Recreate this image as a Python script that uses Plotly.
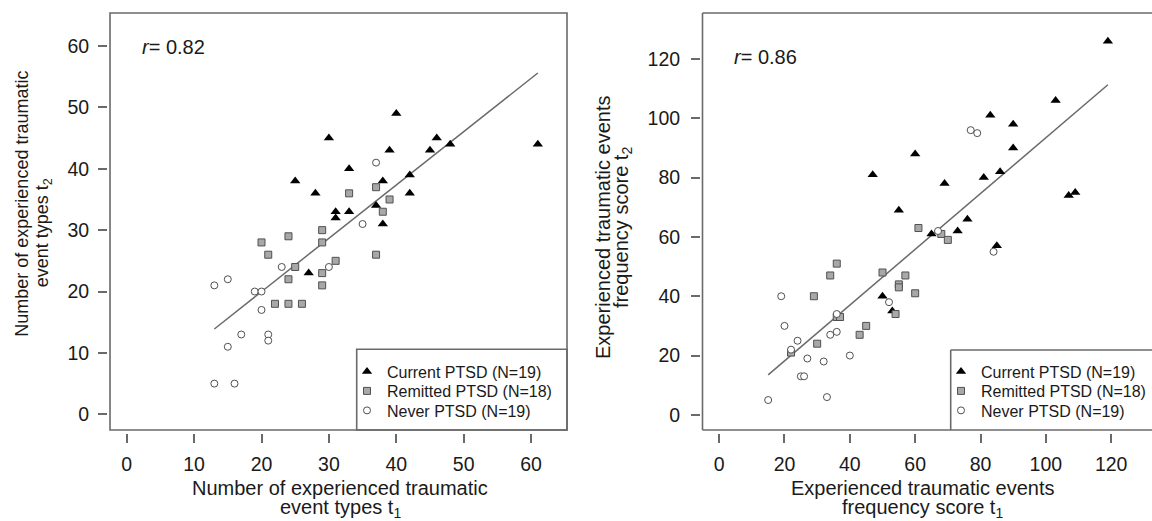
import plotly.graph_objects as go

# ---------------- data ----------------
# Left panel: number of experienced traumatic event types (t1 vs t2)
L_cur_x = [30, 25, 28, 31, 31, 40, 46, 45, 48, 61, 39, 33, 42, 38, 42, 37, 33, 38, 27]
L_cur_y = [45, 38, 36, 32, 33, 49, 45, 43, 44, 44, 43, 40, 39, 38, 36, 34, 33, 31, 23]
L_rem_x = [37, 33, 39, 38, 20, 24, 21, 29, 29, 25, 24, 29, 29, 31, 22, 24, 26, 37]
L_rem_y = [37, 36, 35, 33, 28, 29, 26, 30, 28, 24, 22, 23, 21, 25, 18, 18, 18, 26]
L_nev_x = [35, 37, 13, 15, 23, 30, 19, 20, 20, 17, 21, 21, 15, 13, 16]
L_nev_y = [31, 41, 21, 22, 24, 24, 20, 20, 17, 13, 13, 12, 11, 5, 5]
L_fit_x = [13, 61]
L_fit_y = [13.9, 55.6]
L_r = "0.82"

# Right panel: experienced traumatic events frequency score (t1 vs t2)
R_cur_x = [60, 47, 55, 119, 103, 83, 90, 90, 86, 81, 69, 107, 109, 76, 73, 65, 85, 50, 53]
R_cur_y = [88, 81, 69, 126, 106, 101, 98, 90, 82, 80, 78, 74, 75, 66, 62, 61, 57, 40, 35]
R_rem_x = [61, 68, 70, 36, 34, 50, 57, 55, 55, 60, 54, 29, 36, 37, 45, 43, 30, 22]
R_rem_y = [63, 61, 59, 51, 47, 48, 47, 44, 43, 41, 34, 40, 33, 33, 30, 27, 24, 21]
R_nev_x = [77, 79, 67, 84, 52, 19, 20, 36, 36, 34, 24, 22, 27, 32, 40, 25, 26, 33, 15]
R_nev_y = [96, 95, 62, 55, 38, 40, 30, 34, 28, 27, 25, 22, 19, 18, 20, 13, 13, 6, 5]
R_fit_x = [15, 119]
R_fit_y = [13.5, 111.3]
R_r = "0.86"

group_names = ["Current PTSD (N=19)", "Remitted PTSD (N=18)", "Never PTSD (N=19)"]
L_ticks = [0, 10, 20, 30, 40, 50, 60]
R_ticks = [0, 20, 40, 60, 80, 100, 120]

L_xtitle = ["Number of experienced traumatic", "event types t<sub>1</sub>"]
L_ytitle = ["Number of experienced traumatic", "event types t<sub>2</sub>"]
R_xtitle = ["Experienced traumatic events", "frequency score t<sub>1</sub>"]
R_ytitle = ["Experienced traumatic events", "frequency score t<sub>2</sub>"]

# ---------------- layout helpers ----------------
W, H = 1152, 521
def fx(p):
    return p / W
def fy(p):
    return 1 - p / H

FONT = "Liberation Sans, Arial, Helvetica, sans-serif"
TXT = "#1a1a1a"
GRAY = "#6a6a6a"

styles = [
    dict(symbol="triangle-up", size=9, color="black", line=dict(width=0)),
    dict(symbol="square", size=7, color="#a8a8a8", line=dict(width=1, color="#505050")),
    dict(symbol="circle", size=7, color="white", line=dict(width=1, color="#505050")),
]

fig = go.Figure()

left_sets = [(L_cur_x, L_cur_y), (L_rem_x, L_rem_y), (L_nev_x, L_nev_y)]
right_sets = [(R_cur_x, R_cur_y), (R_rem_x, R_rem_y), (R_nev_x, R_nev_y)]

fig.add_trace(go.Scatter(x=L_fit_x, y=L_fit_y, mode="lines", line=dict(color=GRAY, width=1.5),
                         showlegend=False, xaxis="x", yaxis="y", hoverinfo="skip"))
fig.add_trace(go.Scatter(x=R_fit_x, y=R_fit_y, mode="lines", line=dict(color=GRAY, width=1.5),
                         showlegend=False, xaxis="x2", yaxis="y2", hoverinfo="skip"))

# one single-entry legend per row so rows can be spaced like the reference
row_y = [371.5, 391.0, 410.5]
leg_font = dict(family=FONT, size=16, color=TXT)
legends = {}
k = 1
for (xs, ys), name, st, ry in zip(left_sets, group_names, styles, row_y):
    lname = "legend" if k == 1 else "legend%d" % k
    fig.add_trace(go.Scatter(x=xs, y=ys, mode="markers", name=name, marker=st,
                             xaxis="x", yaxis="y", legend=lname))
    legends[lname] = dict(x=fx(347), y=fy(ry), xanchor="left", yanchor="middle",
                          bgcolor="rgba(0,0,0,0)", borderwidth=0, itemwidth=30, font=leg_font)
    k += 1
for (xs, ys), name, st, ry in zip(right_sets, group_names, styles, row_y):
    lname = "legend%d" % k
    fig.add_trace(go.Scatter(x=xs, y=ys, mode="markers", name=name, marker=st,
                             xaxis="x2", yaxis="y2", legend=lname))
    legends[lname] = dict(x=fx(941), y=fy(ry), xanchor="left", yanchor="middle",
                          bgcolor="rgba(0,0,0,0)", borderwidth=0, itemwidth=30, font=leg_font)
    k += 1

ax_common = dict(showgrid=False, zeroline=False, showline=False, ticks="outside",
                 ticklen=9, tickwidth=1.5, tickcolor=GRAY,
                 tickfont=dict(family=FONT, size=19.5, color=TXT), anchor="free")

ydom = [fy(430), fy(13)]
fig.update_layout(
    width=W, height=H, margin=dict(l=0, r=0, t=0, b=0),
    paper_bgcolor="white", plot_bgcolor="white",
    font=dict(family=FONT, color=TXT),
    xaxis=dict(domain=[fx(110), fx(567)], range=[-2.48, 65.33], tickvals=L_ticks,
               position=fy(433), ticklabelstandoff=5, **ax_common),
    yaxis=dict(domain=ydom, range=[-2.56, 65.38], tickvals=L_ticks,
               position=fx(107), ticklabelstandoff=5, **ax_common),
    xaxis2=dict(domain=[fx(702.5), 1.0], range=[-5.1, 132.5], tickvals=R_ticks,
                position=fy(433), ticklabelstandoff=5, **ax_common),
    yaxis2=dict(domain=ydom, range=[-5.1, 135.5], tickvals=R_ticks,
                position=fx(700), ticklabelstandoff=7, **ax_common),
    **legends,
)

line_style = dict(color=GRAY, width=1.6)
shapes = [
    # left plot box
    dict(type="rect", xref="x domain", yref="y domain", x0=0, x1=1, y0=0, y1=1, line=line_style),
    # right plot box (right side cropped by the figure edge)
    dict(type="line", xref="x2 domain", yref="y2 domain", x0=0, x1=0, y0=0, y1=1, line=line_style),
    dict(type="line", xref="x2 domain", yref="y2 domain", x0=0, x1=1, y0=1, y1=1, line=line_style),
    dict(type="line", xref="x2 domain", yref="y2 domain", x0=0, x1=1, y0=0, y1=0, line=line_style),
    # legend boxes
    dict(type="rect", xref="paper", yref="paper", x0=fx(356.7), x1=fx(567), y0=fy(430), y1=fy(349.3),
         line=line_style),
    dict(type="line", xref="paper", yref="paper", x0=fx(950.7), x1=fx(950.7), y0=fy(430), y1=fy(350),
         line=line_style),
    dict(type="line", xref="paper", yref="paper", x0=fx(950.7), x1=1.0, y0=fy(350), y1=fy(350),
         line=line_style),
]
fig.update_layout(shapes=shapes)

ann_font = dict(family=FONT, size=20, color=TXT)
ann_font_l = dict(family=FONT, size=18, color=TXT)
def ann(text, x, y, font, angle=0):
    return dict(text=text, xref="paper", yref="paper", x=fx(x), y=fy(y), xanchor="center",
                yanchor="middle", textangle=angle, showarrow=False, font=font)

annotations = [
    dict(text="<i>r</i>= " + L_r, xref="paper", yref="paper", x=fx(140), y=fy(46.7),
         xanchor="left", yanchor="middle", showarrow=False, font=ann_font),
    dict(text="<i>r</i>= " + R_r, xref="paper", yref="paper", x=fx(732), y=fy(57.3),
         xanchor="left", yanchor="middle", showarrow=False, font=ann_font),
    ann(L_xtitle[0], 340, 488, ann_font),
    ann(L_xtitle[1], 340, 508.5, ann_font),
    ann(R_xtitle[0], 922, 488, ann_font),
    ann(R_xtitle[1], 922, 508.5, ann_font),
    ann(L_ytitle[0], 21.7, 204, ann_font_l, -90),
    ann(L_ytitle[1], 43.3, 233, ann_font_l, -90),
    ann(R_ytitle[0], 603, 228, ann_font, -90),
    ann(R_ytitle[1], 623, 228, ann_font, -90),
]
fig.update_layout(annotations=annotations)

fig.write_html("out.html", config={"displayModeBar": False},
               post_script="document.body.style.margin='0';document.body.style.overflow='hidden';")
